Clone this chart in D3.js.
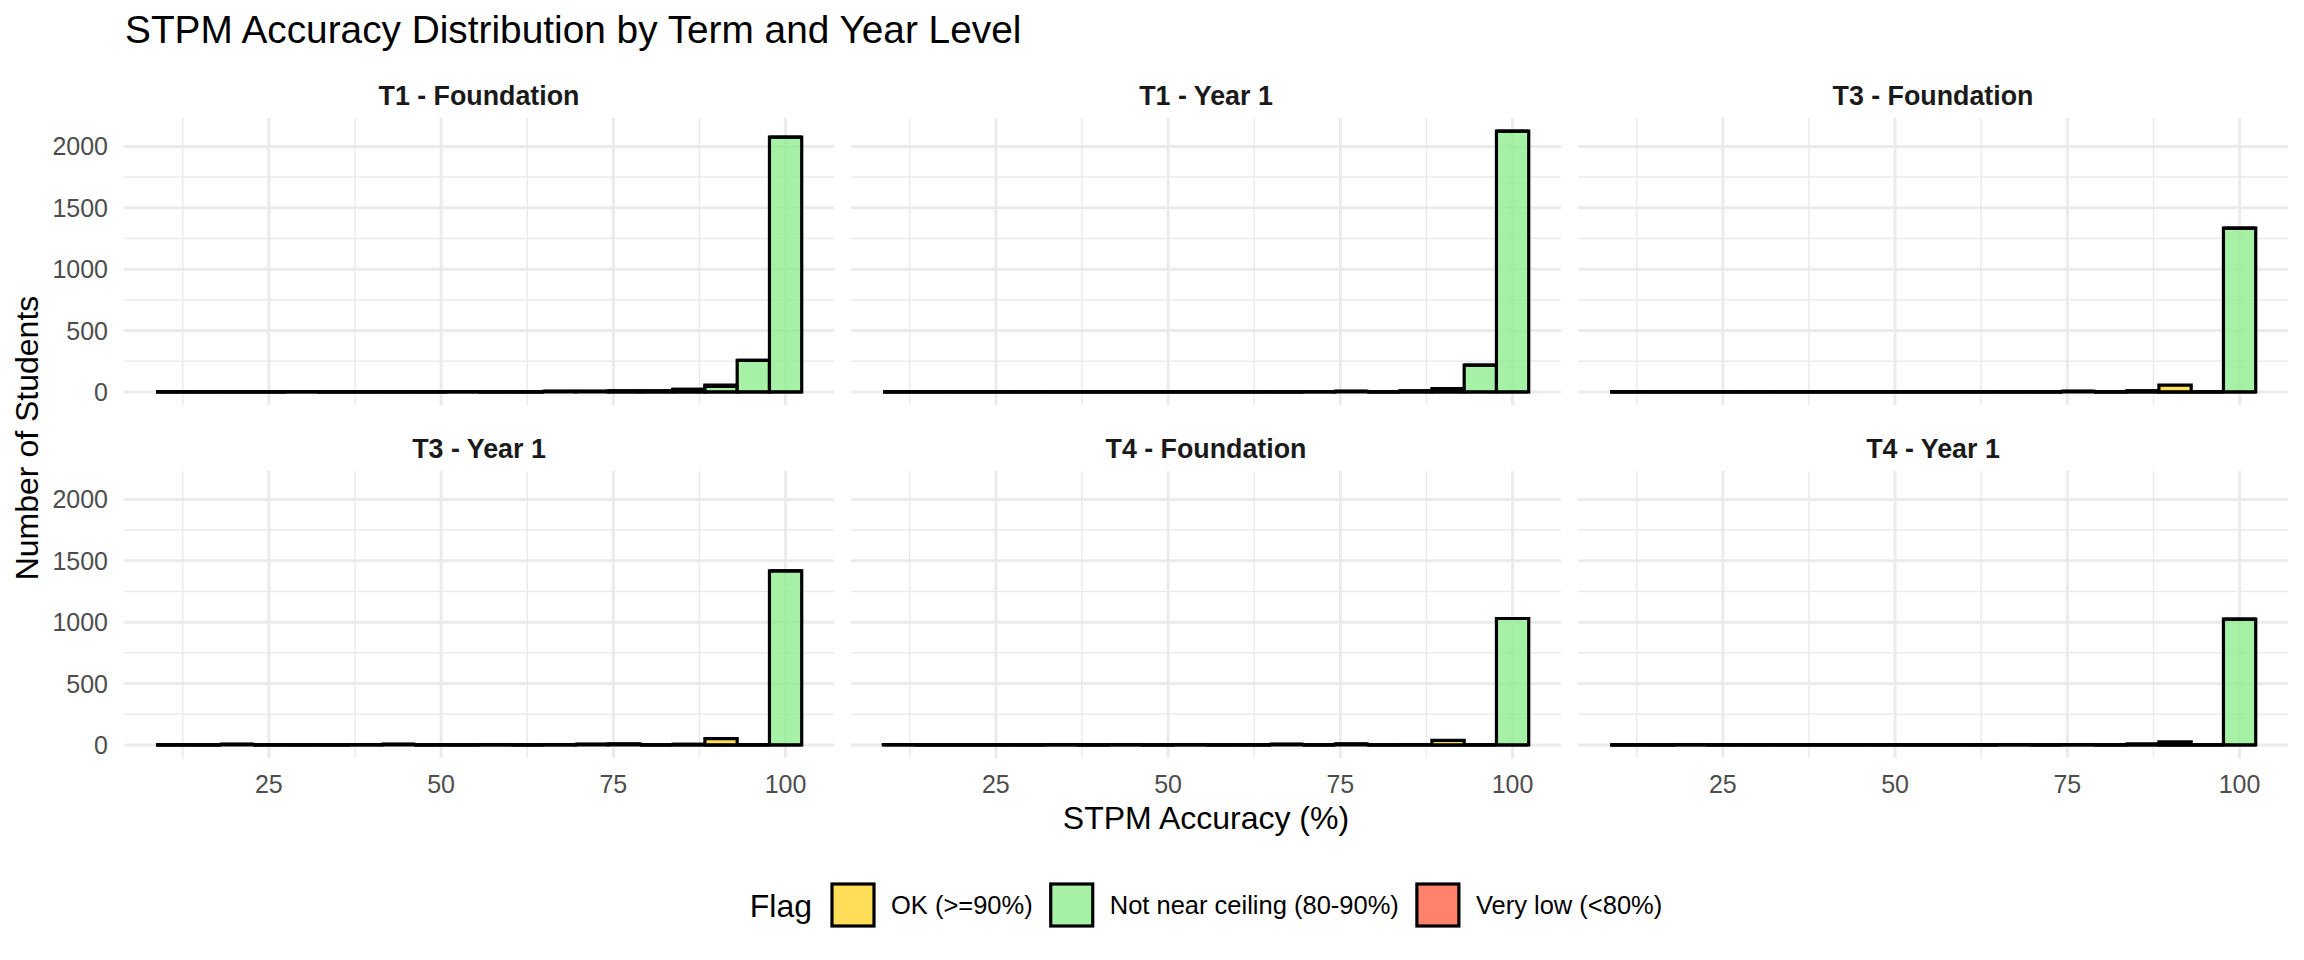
<!DOCTYPE html>
<html>
<head>
<meta charset="utf-8">
<script src="https://cdn.jsdelivr.net/npm/d3@7"></script>
<style>
  html, body { margin: 0; padding: 0; background: #ffffff; }
  svg { display: block; font-family: "Liberation Sans", Arial, Helvetica, sans-serif; }
</style>
</head>
<body>
<svg id="chart" width="2304" height="960"></svg>
<script>
// ---------------- DATA ----------------
const chartTitle = "STPM Accuracy Distribution by Term and Year Level";
const xTitle = "STPM Accuracy (%)";
const yTitle = "Number of Students";
const legendTitle = "Flag";

const panels = ["T1 - Foundation", "T1 - Year 1", "T3 - Foundation",
                "T3 - Year 1", "T4 - Foundation", "T4 - Year 1"];
const flags = ["OK (>=90%)", "Not near ceiling (80-90%)", "Very low (<80%)"];
const flagColors = ["#FFD731", "#90EE90", "#FF6347"];

// histogram: 20 bins, first bin centred at 11, last at 100
const binFirstCentre = 11;
const binLastCentre = 100;
const binCount = 20;

const xTicks = [25, 50, 75, 100];
const xMinor = [12.5, 37.5, 62.5, 87.5];
const yTicks = [0, 500, 1000, 1500, 2000];
const yMinor = [250, 750, 1250, 1750];

// counts per bin (20 bins), per panel, per flag
const t1FoundationOk      = [0,0,0,0,0, 0,0,0,0,0, 0,0,0,0,0, 0,0,10,0,0];
const t1FoundationNotNear = [0,0,0,0,0, 0,0,0,0,0, 0,0,0,0,8, 8,22,46,258,2075];
const t1FoundationVeryLow = [0,0,0,0,3, 0,0,0,0,3, 0,0,4,5,0, 0,0,0,0,0];

const t1Year1Ok      = [0,0,0,0,0, 0,0,0,0,0, 0,0,0,0,0, 0,0,0,0,0];
const t1Year1NotNear = [0,0,0,0,0, 0,0,0,0,0, 0,0,0,0,0, 0,8,27,218,2125];
const t1Year1VeryLow = [0,0,0,0,0, 0,0,0,0,0, 0,0,0,3,5, 0,0,0,0,0];

const t3FoundationOk      = [0,0,0,0,0, 0,0,0,0,0, 0,0,0,0,0, 0,0,55,0,0];
const t3FoundationNotNear = [0,0,0,0,0, 0,0,0,0,0, 0,0,0,0,0, 0,8,0,0,1335];
const t3FoundationVeryLow = [0,0,0,0,0, 0,0,0,0,0, 0,0,0,0,4, 0,0,0,0,0];

const t3Year1Ok      = [0,0,0,0,0, 0,0,0,0,0, 0,0,0,0,0, 0,0,52,0,0];
const t3Year1NotNear = [0,0,0,0,0, 0,0,0,0,0, 0,0,0,0,0, 0,5,0,0,1418];
const t3Year1VeryLow = [0,0,4,0,0, 0,3,5,0,0, 3,0,3,4,7, 0,0,0,0,0];

const t4FoundationOk      = [0,0,0,0,0, 0,0,0,0,0, 0,0,0,0,0, 0,0,38,0,0];
const t4FoundationNotNear = [0,0,0,0,0, 0,0,0,0,0, 0,0,0,0,0, 0,3,0,0,1030];
const t4FoundationVeryLow = [3,0,0,0,0, 3,0,3,0,3, 0,0,4,0,7, 0,0,0,0,0];

const t4Year1Ok      = [0,0,0,0,0, 0,0,0,0,0, 0,0,0,0,0, 0,0,25,0,0];
const t4Year1NotNear = [0,0,0,0,0, 0,0,0,0,0, 0,0,0,0,0, 0,6,0,0,1025];
const t4Year1VeryLow = [0,0,3,0,0, 0,0,0,0,0, 0,0,3,0,3, 0,0,0,0,0];

const panelCounts = [
  [t1FoundationOk, t1FoundationNotNear, t1FoundationVeryLow],
  [t1Year1Ok, t1Year1NotNear, t1Year1VeryLow],
  [t3FoundationOk, t3FoundationNotNear, t3FoundationVeryLow],
  [t3Year1Ok, t3Year1NotNear, t3Year1VeryLow],
  [t4FoundationOk, t4FoundationNotNear, t4FoundationVeryLow],
  [t4Year1Ok, t4Year1NotNear, t4Year1VeryLow]
];

// ---------------- LAYOUT ----------------
const svg = d3.select("#chart");

const plotLeft = 124, plotRight = 2288, colGap = 17;
const panelW = (plotRight - plotLeft - 2 * colGap) / 3;
const rowTops = [118, 471];
const panelH = 287;
const stripCentres = [95, 448];

const binWidth = (binLastCentre - binFirstCentre) / (binCount - 1);
const binStarts = d3.range(binCount).map(i => binFirstCentre + (i - 0.5) * binWidth);
const dataMin = binStarts[0], dataMax = binStarts[binCount - 1] + binWidth;
const xPad = (dataMax - dataMin) * 0.05;

// stacked totals for y domain
let maxTotal = 0;
panelCounts.forEach(pc => {
  for (let i = 0; i < binCount; i++) {
    maxTotal = Math.max(maxTotal, pc[0][i] + pc[1][i] + pc[2][i]);
  }
});
const yPad = maxTotal * 0.05;

// ---------------- TITLE ----------------
svg.append("text")
  .attr("x", 125).attr("y", 43)
  .attr("font-size", 38.8).attr("fill", "#000")
  .text(chartTitle);

// ---------------- PANELS ----------------
panels.forEach((name, p) => {
  const col = p % 3, row = Math.floor(p / 3);
  const left = plotLeft + col * (panelW + colGap);
  const top = rowTops[row];

  const x = d3.scaleLinear().domain([dataMin - xPad, dataMax + xPad]).range([left, left + panelW]);
  const y = d3.scaleLinear().domain([-yPad, maxTotal + yPad]).range([top + panelH, top]);

  const g = svg.append("g");

  // minor grid
  g.selectAll(".xmin").data(xMinor).enter().append("line")
    .attr("x1", d => x(d)).attr("x2", d => x(d))
    .attr("y1", top).attr("y2", top + panelH)
    .attr("stroke", "#EBEBEB").attr("stroke-width", 1.5);
  g.selectAll(".ymin").data(yMinor).enter().append("line")
    .attr("y1", d => y(d)).attr("y2", d => y(d))
    .attr("x1", left).attr("x2", left + panelW)
    .attr("stroke", "#EBEBEB").attr("stroke-width", 1.5);
  // major grid
  g.selectAll(".xmaj").data(xTicks).enter().append("line")
    .attr("x1", d => x(d)).attr("x2", d => x(d))
    .attr("y1", top).attr("y2", top + panelH)
    .attr("stroke", "#EBEBEB").attr("stroke-width", 3);
  g.selectAll(".ymaj").data(yTicks).enter().append("line")
    .attr("y1", d => y(d)).attr("y2", d => y(d))
    .attr("x1", left).attr("x2", left + panelW)
    .attr("stroke", "#EBEBEB").attr("stroke-width", 3);

  // stacked bars: first flag on top, last at bottom
  const counts = panelCounts[p];
  const rects = [];
  for (let i = 0; i < binCount; i++) {
    let base = 0;
    for (let f = flags.length - 1; f >= 0; f--) {
      const c = counts[f][i];
      rects.push({ x0: binStarts[i], x1: binStarts[i] + binWidth, y0: base, y1: base + c, f });
      base += c;
    }
  }
  g.selectAll(".bar").data(rects).enter().append("path")
    .attr("d", d => {
      const X0 = x(d.x0), X1 = x(d.x1), Y0 = y(d.y0), Y1 = y(d.y1);
      return `M${X0},${Y0}L${X1},${Y0}L${X1},${Y1}L${X0},${Y1}Z`;
    })
    .attr("fill", d => flagColors[d.f]).attr("fill-opacity", 0.8)
    .attr("stroke", "#000").attr("stroke-width", 3.2)
    .attr("stroke-linejoin", "miter");

  // strip label
  svg.append("text")
    .attr("x", left + panelW / 2).attr("y", stripCentres[row] + 9.6)
    .attr("text-anchor", "middle").attr("font-weight", "bold")
    .attr("font-size", 26.8).attr("fill", "#1A1A1A")
    .text(name);

  // y tick labels (first column)
  if (col === 0) {
    g.selectAll(".ylab").data(yTicks).enter().append("text")
      .attr("x", left - 16).attr("y", d => y(d) + 9)
      .attr("text-anchor", "end").attr("font-size", 25).attr("fill", "#4D4D4D")
      .text(d => d);
  }
  // x tick labels (bottom row)
  if (row === 1) {
    g.selectAll(".xlab").data(xTicks).enter().append("text")
      .attr("x", d => x(d)).attr("y", top + panelH + 35)
      .attr("text-anchor", "middle").attr("font-size", 25).attr("fill", "#4D4D4D")
      .text(d => d);
  }
});

// ---------------- AXIS TITLES ----------------
svg.append("text")
  .attr("x", (plotLeft + plotRight) / 2).attr("y", 829)
  .attr("text-anchor", "middle").attr("font-size", 32).attr("fill", "#000")
  .text(xTitle);

svg.append("text")
  .attr("transform", `translate(37.5, ${(rowTops[0] + rowTops[1] + panelH) / 2}) rotate(-90)`)
  .attr("text-anchor", "middle").attr("font-size", 32).attr("fill", "#000")
  .text(yTitle);

// ---------------- LEGEND ----------------
const legendY = 905, keySize = 42;
const lg = svg.append("g");
const titleEl = lg.append("text").attr("font-size", 32).attr("fill", "#000").text(legendTitle);
const tW = titleEl.node().getComputedTextLength();
const labelEls = flags.map(f => lg.append("text").attr("font-size", 25.5).attr("fill", "#000").text(f));
const lW = labelEls.map(e => e.node().getComputedTextLength());
const gapTitle = 20, gapKeyLabel = 17, gapItem = 18;
const totalW = tW + gapTitle + flags.length * (keySize + gapKeyLabel) + d3.sum(lW) + (flags.length - 1) * gapItem;
let cx = (plotLeft + plotRight) / 2 - totalW / 2;
titleEl.attr("x", cx).attr("y", legendY + 11.5);
cx += tW + gapTitle;
flags.forEach((f, i) => {
  lg.append("rect")
    .attr("x", cx).attr("y", legendY - keySize / 2)
    .attr("width", keySize).attr("height", keySize)
    .attr("fill", flagColors[i]).attr("fill-opacity", 0.8)
    .attr("stroke", "#000").attr("stroke-width", 3.2);
  cx += keySize + gapKeyLabel;
  labelEls[i].attr("x", cx).attr("y", legendY + 9.2);
  cx += lW[i] + gapItem;
});
</script>
</body>
</html>
